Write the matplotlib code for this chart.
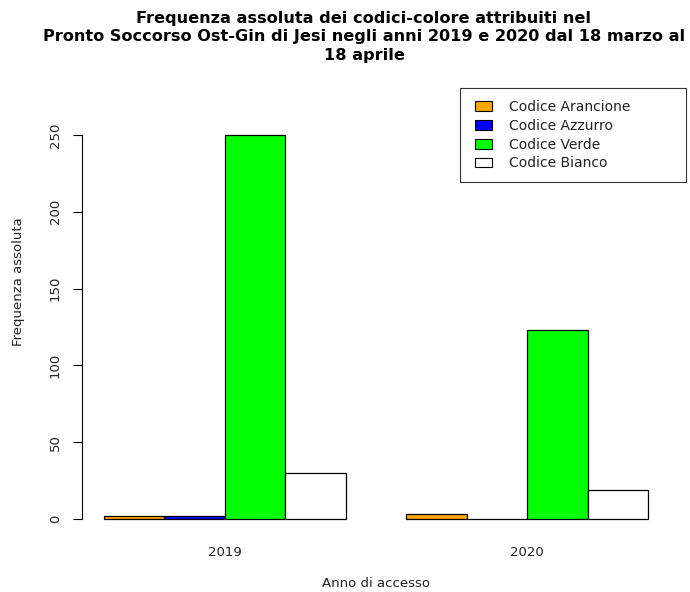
import matplotlib
matplotlib.use("Agg")
import matplotlib.pyplot as plt
from matplotlib.patches import Patch, Rectangle
from matplotlib.legend_handler import HandlerPatch
import numpy as np

plt.rcParams["font.family"] = ["DejaVu Sans"]

years = ["2019", "2020"]
codes = ["Codice Arancione", "Codice Azzurro", "Codice Verde", "Codice Bianco"]
colors = ["#FFA500", "#0000FF", "#00FF00", "#FFFFFF"]
freq_2019 = [2, 2, 250, 30]
freq_2020 = [3, 0, 123, 19]
counts = np.array([freq_2019, freq_2020])

W, H = 690, 592
fig = plt.figure(figsize=(W / 100, H / 100), dpi=100)
ax = fig.add_axes([82 / W, 1 - 534.4 / H, 588 / W, 414.8 / H])

# grouped bars, one unit wide, one empty unit between groups
n = len(codes)
for g in range(len(years)):
    left = 1 + g * (n + 1)
    for i in range(n):
        ax.bar(left + i, counts[g, i], width=1, align="edge",
               color=colors[i], edgecolor="black", linewidth=0.9)

ax.set_xlim(0.64, 10.36)
ax.set_ylim(-10, 260)

for side in ["top", "right", "bottom"]:
    ax.spines[side].set_visible(False)
ax.spines["left"].set_bounds(0, 250)
ax.spines["left"].set_linewidth(0.8)

ax.set_yticks(np.arange(0, 251, 50))
ax.tick_params(axis="y", length=6.5, width=0.8, labelsize=9.5, pad=8,
               labelrotation=90, labelcolor="#222222")
for lab in ax.get_yticklabels():
    lab.set_va("center")

centers = [1 + g * (n + 1) + n / 2 for g in range(len(years))]
ax.set_xticks(centers)
ax.set_xticklabels(years)
ax.tick_params(axis="x", length=0, labelsize=9.5, pad=8, labelcolor="#222222")

ax.set_xlabel("Anno di accesso", fontsize=9.5, color="#222222")
ax.xaxis.set_label_coords(0.5, (534.4 - 577) / 414.8)
ax.set_ylabel("Frequenza assoluta", fontsize=9.5, color="#222222")
ax.yaxis.set_label_coords((25 - 82) / 588, (534.4 - 282) / 414.8)

fig.text(364 / W, 1 - 37 / H,
         "Frequenza assoluta dei codici-colore attribuiti nel\n"
         "Pronto Soccorso Ost-Gin di Jesi negli anni 2019 e 2020 dal 18 marzo al\n"
         "18 aprile",
         ha="center", va="center", fontsize=11.6, fontweight="bold", linespacing=1.28)


def small_square(legend, orig_handle, xdescent, ydescent, width, height, fontsize):
    # small filled square at the right end of the handle area
    return Rectangle((width - 12 - xdescent, -ydescent), 12, height)


handles = [Patch(facecolor=c, edgecolor="black", linewidth=0.8) for c in colors]
leg = ax.legend(handles, codes, loc="upper left", mode="expand",
                bbox_to_anchor=(460 / W, 1 - 183 / H, 226 / W, 95 / H),
                bbox_transform=fig.transFigure,
                handler_map={Patch: HandlerPatch(patch_func=small_square)},
                fontsize=10, frameon=True, fancybox=False, edgecolor="black",
                handlelength=1.46, handleheight=0.72, handletextpad=1.2,
                labelspacing=0.35, borderpad=0.85, borderaxespad=0)
leg.get_frame().set_linewidth(0.8)
for t in leg.get_texts():
    t.set_color("#222222")

fig.savefig("out.png", dpi=100)
